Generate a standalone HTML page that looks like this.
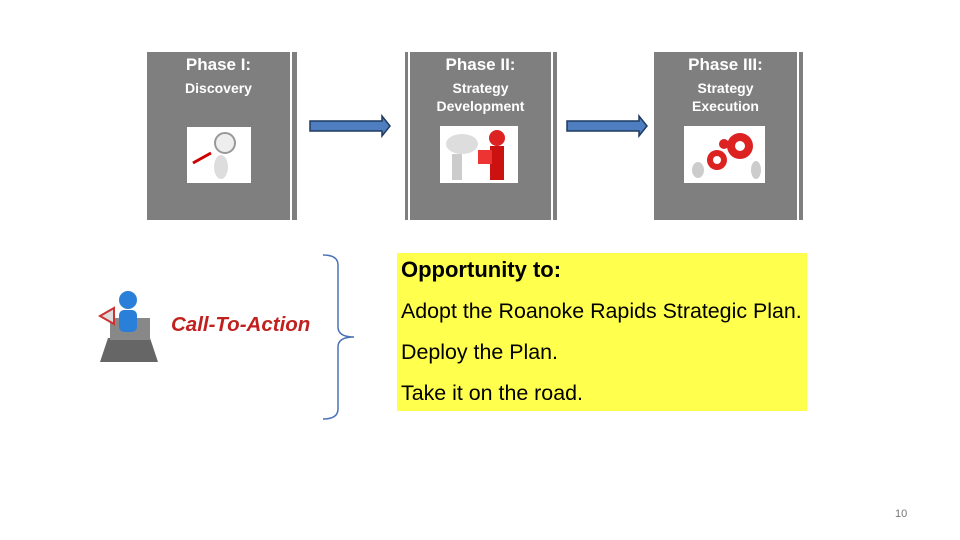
<!DOCTYPE html>
<html><head><style>
body{margin:0;width:960px;height:540px;background:#fff;position:relative;overflow:hidden;font-family:"Liberation Sans",sans-serif}
.box{position:absolute;top:52px;height:168px;background:#7f7f7f;color:#fff;text-align:center;font-weight:bold}
.strip{position:absolute;top:52px;height:168px;background:#7f7f7f}
.t1{font-size:17px;margin-top:3px}
.t2{font-size:14px;line-height:18px;margin-top:4px}
.img{position:absolute;background:#fff}
.yt{position:absolute;left:401px;font-size:21.4px;color:#000}
</style></head><body>
<div class="box" style="left:147px;width:143px"><div class="t1">Phase I:</div><div class="t2">Discovery</div></div>
<div class="strip" style="left:292px;width:5px"></div>
<div class="img" style="left:187px;top:127px;width:64px;height:56px">
<svg width="64" height="56"><line x1="6" y1="36" x2="24" y2="26" stroke="#c00" stroke-width="3"/><circle cx="38" cy="16" r="10" fill="#eee" stroke="#999" stroke-width="2"/><ellipse cx="34" cy="40" rx="7" ry="12" fill="#ddd"/></svg></div>

<div class="strip" style="left:405px;width:3px"></div>
<div class="box" style="left:410px;width:141px"><div class="t1">Phase II:</div><div class="t2">Strategy<br>Development</div></div>
<div class="strip" style="left:553px;width:4px"></div>
<div class="img" style="left:440px;top:126px;width:78px;height:57px">
<svg width="78" height="57"><ellipse cx="22" cy="18" rx="16" ry="10" fill="#ddd"/><rect x="12" y="28" width="10" height="26" fill="#ccc"/><circle cx="57" cy="12" r="8" fill="#d22"/><rect x="50" y="20" width="14" height="34" fill="#c11"/><rect x="38" y="24" width="14" height="14" fill="#e33"/></svg></div>

<div class="box" style="left:654px;width:143px"><div class="t1">Phase III:</div><div class="t2">Strategy<br>Execution</div></div>
<div class="strip" style="left:799px;width:4px"></div>
<div class="img" style="left:684px;top:126px;width:81px;height:57px">
<svg width="81" height="57"><circle cx="56" cy="20" r="13" fill="#d22"/><circle cx="56" cy="20" r="5" fill="#fff"/><circle cx="33" cy="34" r="10" fill="#d22"/><circle cx="33" cy="34" r="4" fill="#fff"/><circle cx="40" cy="18" r="5" fill="#d22"/><ellipse cx="14" cy="44" rx="6" ry="8" fill="#ccc"/><ellipse cx="72" cy="44" rx="5" ry="9" fill="#ccc"/></svg></div>

<svg style="position:absolute;left:0;top:0" width="960" height="540">
<polygon points="310,121 382,121 382,116 390,126 382,136 382,131 310,131" fill="#4f7ec0" stroke="#1f3a60" stroke-width="1.5"/>
<polygon points="567,121 639,121 639,116 647,126 639,136 639,131 567,131" fill="#4f7ec0" stroke="#1f3a60" stroke-width="1.5"/>
<path d="M323,255 Q338,255 338,265 L338,327 Q338,337 354,337 Q338,337 338,347 L338,409 Q338,419 323,419" fill="none" stroke="#4a72b8" stroke-width="1.5"/>
<g>
<polygon points="108,338 150,338 158,362 100,362" fill="#666"/>
<rect x="110" y="318" width="40" height="22" fill="#888"/>
<circle cx="128" cy="300" r="9" fill="#2a7fd8"/>
<rect x="119" y="310" width="18" height="22" rx="5" fill="#2a7fd8"/>
<polygon points="100,316 114,308 114,324" fill="#ddd" stroke="#c33" stroke-width="2"/>
</g>
</svg>
<div style="position:absolute;left:171px;top:313px;font-size:20.5px;font-weight:bold;font-style:italic;color:#c0211f">Call-To-Action</div>
<div style="position:absolute;left:397px;top:253px;width:410px;height:158px;background:#ffff4d"></div>
<div class="yt" style="top:257px;font-weight:bold;font-size:22px">Opportunity to:</div>
<div class="yt" style="top:299px">Adopt the Roanoke Rapids Strategic Plan.</div>
<div class="yt" style="top:340px">Deploy the Plan.</div>
<div class="yt" style="top:381px">Take it on the road.</div>
<div style="position:absolute;left:895px;top:508px;font-size:11px;color:#777">10</div>
</body></html>
